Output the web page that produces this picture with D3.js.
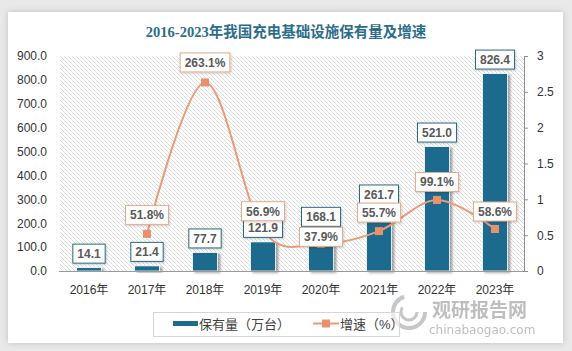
<!DOCTYPE html>
<html><head><meta charset="utf-8">
<script src="https://cdn.jsdelivr.net/npm/d3@7"></script>
<style>
html,body{margin:0;padding:0;background:#e9e9e9;}
svg{display:block;}
</style></head>
<body>
<svg id="c" width="572" height="351"></svg>
<script>
// ---- data ----
const categories = ["2016年","2017年","2018年","2019年","2020年","2021年","2022年","2023年"];
const stockValues = [14.1, 21.4, 77.7, 121.9, 168.1, 261.7, 521.0, 826.4];   // 保有量（万台）
const growthValues = [null, 51.8, 263.1, 56.9, 37.9, 55.7, 99.1, 58.6];     // 增速（%）
const leftTicks = [0,100,200,300,400,500,600,700,800,900];
const rightTicks = [0,0.5,1,1.5,2,2.5,3];
const lineLabelLift = [0, 19, 20, 19, 7, 18.5, 18, 17.5];

const svg = d3.select("#c");
const defs = svg.append("defs");

// card shadow
const cs = defs.append("filter").attr("id","cardShadow").attr("x","-5%").attr("y","-5%").attr("width","110%").attr("height","110%");
cs.append("feDropShadow").attr("dx",0).attr("dy",0).attr("stdDeviation",3).attr("flood-color","#000").attr("flood-opacity",0.18);
// bar shadow
const bs = defs.append("filter").attr("id","barShadow").attr("x","-30%").attr("y","-10%").attr("width","170%").attr("height","130%");
bs.append("feDropShadow").attr("dx",2.5).attr("dy",1.5).attr("stdDeviation",1.3).attr("flood-color","#000").attr("flood-opacity",0.35);
const ls = defs.append("filter").attr("id","boxShadow").attr("x","-20%").attr("y","-20%").attr("width","140%").attr("height","150%");
ls.append("feDropShadow").attr("dx",1).attr("dy",1).attr("stdDeviation",0.8).attr("flood-color","#000").attr("flood-opacity",0.2);
// hatch
const pat = defs.append("pattern").attr("id","hatch").attr("patternUnits","userSpaceOnUse").attr("width",4).attr("height",4);
pat.append("rect").attr("width",4).attr("height",4).attr("fill","#fff");
pat.append("path").attr("d","M-1,-1 L5,5 M-1,3 L1,5 M3,-1 L5,1").attr("stroke","#cfcfcf").attr("stroke-width",0.7);

// card
svg.append("rect").attr("x",8).attr("y",12).attr("width",555).attr("height",331).attr("fill","#fff").attr("filter","url(#cardShadow)");

// title
svg.append("text").attr("x",286).attr("y",37).attr("text-anchor","middle")
  .attr("font-family","'Liberation Serif','Noto Sans CJK SC',serif").attr("font-weight","bold")
  .attr("font-size",14.5).attr("fill","#2c6d8c")
  .text("2016-2023年我国充电基础设施保有量及增速");

const L = 60, R = 524, T = 56, B = 271;
const x = d3.scaleBand().domain(categories).range([L,R]).paddingInner(0.57).paddingOuter(0.285);
const yL = d3.scaleLinear().domain([0,900]).range([B,T]);
const yR = d3.scaleLinear().domain([0,3]).range([B,T]);

// plot background hatch
svg.append("rect").attr("x",L).attr("y",T).attr("width",R-L).attr("height",B-T).attr("fill","url(#hatch)");

const FONT = "'Liberation Sans','Noto Sans CJK SC',sans-serif";

// left axis
const gL = svg.append("g").attr("transform",`translate(${L-13},0)`)
  .call(d3.axisLeft(yL).tickValues(leftTicks).tickFormat(d3.format(".1f")).tickSize(0).tickPadding(0));
gL.select(".domain").remove();
gL.selectAll("text").attr("font-family",FONT).attr("font-size",12).attr("fill","#333");

// right axis
const gR = svg.append("g").attr("transform",`translate(${R},0)`)
  .call(d3.axisRight(yR).tickValues(rightTicks).tickFormat(d => String(d)).tickSize(4).tickSizeOuter(4).tickPadding(9));
gR.select(".domain").attr("stroke","#8c8c8c");
gR.selectAll(".tick line").attr("stroke","#8c8c8c");
gR.selectAll("text").attr("font-family",FONT).attr("font-size",12).attr("fill","#333");

// bottom axis
const gB = svg.append("g").attr("transform",`translate(0,${B})`)
  .call(d3.axisBottom(x).tickSize(0).tickPadding(14));
gB.select(".domain").remove();
gB.selectAll("text").attr("font-family",FONT).attr("font-size",12).attr("fill","#333");

// bars
svg.append("g").selectAll("rect").data(stockValues).join("rect")
  .attr("x",(d,i)=>x(categories[i])).attr("width",x.bandwidth())
  .attr("y",d=>yL(d)).attr("height",d=>B-yL(d))
  .attr("fill","#1d6a8d").attr("stroke","#fff").attr("stroke-width",0.8)
  .attr("filter","url(#barShadow)");

// baseline
svg.append("line").attr("x1",L-1).attr("x2",R).attr("y1",B+0.5).attr("y2",B+0.5).attr("stroke","#9a9a9a").attr("stroke-width",1);

function labelBox(g, cx, cy, txt, border){
  const grp = g.append("g");
  const t = grp.append("text").attr("x",cx).attr("y",cy+4.3).attr("text-anchor","middle")
    .attr("font-family",FONT).attr("font-weight","bold").attr("font-size",12).attr("fill","#595959").text(txt);
  const w = t.node().getComputedTextLength() + 9;
  grp.insert("rect","text").attr("x",cx-w/2).attr("y",cy-9.5).attr("width",w).attr("height",19)
    .attr("fill","#fff").attr("stroke",border).attr("stroke-width",1).attr("filter","url(#boxShadow)");
}

// line
const pts = growthValues.map((v,i)=>({v,i})).filter(d=>d.v!=null);
const cx = i => x(categories[i]) + x.bandwidth()/2;
const line = d3.line().x(d=>cx(d.i)).y(d=>yR(d.v/100)).curve(d3.curveCardinal.tension(0));
svg.append("path").datum(pts).attr("d",line).attr("fill","none").attr("stroke","#eb9b78").attr("stroke-width",2);
svg.append("g").selectAll("rect").data(pts).join("rect")
  .attr("x",d=>cx(d.i)-4).attr("y",d=>yR(d.v/100)-4).attr("width",8).attr("height",8).attr("fill","#e8916c");

// bar labels (above line)
const gBL = svg.append("g");
stockValues.forEach((v,i)=>{
  labelBox(gBL, x(categories[i])+x.bandwidth()/2, yL(v)-14, v.toFixed(1), "#2b6a80");
});

// line labels
const gLL = svg.append("g");
pts.forEach(d=>{
  labelBox(gLL, cx(d.i), yR(d.v/100)-lineLabelLift[d.i], d.v.toFixed(1)+"%", "#e6a98c");
});

// watermark
const wm = svg.append("g").attr("opacity",0.55);
wm.append("circle").attr("cx",409).attr("cy",312).attr("r",16).attr("fill","none").attr("stroke","#9a9a9a").attr("stroke-width",4).attr("stroke-dasharray","70 30");
wm.append("circle").attr("cx",409).attr("cy",312).attr("r",8).attr("fill","none").attr("stroke","#9a9a9a").attr("stroke-width",3).attr("stroke-dasharray","30 20");
wm.append("text").attr("x",432).attr("y",317).attr("font-family","'Noto Sans CJK SC',sans-serif").attr("font-weight","bold").attr("font-size",19).attr("fill","#8a8a8a").text("观研报告网");
wm.append("text").attr("x",429).attr("y",334).attr("font-family","'DejaVu Sans',sans-serif").attr("font-size",12).attr("fill","#8a8a8a").text("chinabaogao.com");

// legend
const lg = svg.append("g");
lg.append("rect").attr("x",153.5).attr("y",312.5).attr("width",246).attr("height",24).attr("fill","#fff").attr("fill-opacity",0.6).attr("stroke","#d6d6d6");
lg.append("rect").attr("x",173).attr("y",321).attr("width",25).attr("height",5).attr("fill","#1d6a8d");
lg.append("text").attr("x",199).attr("y",329).attr("font-family",FONT).attr("font-size",13).attr("fill","#404040").text("保有量（万台）");
lg.append("line").attr("x1",313).attr("x2",339).attr("y1",323.5).attr("y2",323.5).attr("stroke","#eb9b78").attr("stroke-width",2);
lg.append("rect").attr("x",322).attr("y",319.5).attr("width",8).attr("height",8).attr("fill","#e8916c");
lg.append("text").attr("x",340).attr("y",329).attr("font-family",FONT).attr("font-size",13).attr("fill","#404040").text("增速（%）");
</script>
</body></html>
